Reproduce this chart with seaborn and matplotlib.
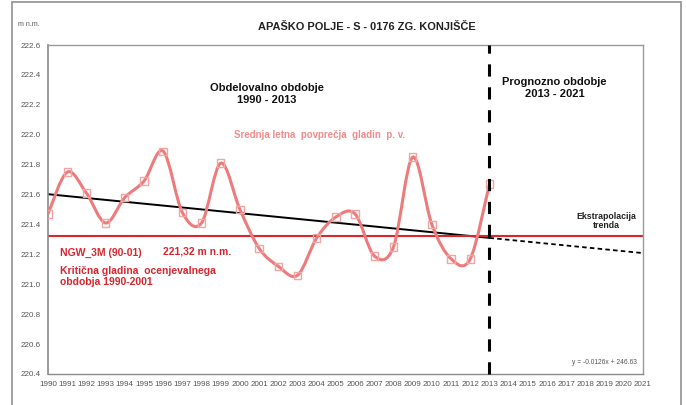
import numpy as np
import pandas as pd
import matplotlib
matplotlib.use("Agg")
import matplotlib.pyplot as plt
from matplotlib.path import Path
from matplotlib.patches import PathPatch, Rectangle
import seaborn as sns

# Mean annual groundwater levels (m n.m.), station S-0176 Zg. Konjišče
years = list(range(1990, 2014))
levels = [221.47, 221.75, 221.61, 221.41, 221.58, 221.69, 221.89, 221.48,
          221.41, 221.81, 221.50, 221.24, 221.12, 221.06, 221.31, 221.45,
          221.47, 221.19, 221.25, 221.85, 221.40, 221.17, 221.17, 221.67]

critical_level = 221.32          # NGW_3M (90-01)
forecast_end = 2021
equation_text = "y = -0.0126x + 246.63"

x_ticks = list(range(1990, 2022))
y_ticks = [220.4, 220.6, 220.8, 221.0, 221.2, 221.4, 221.6, 221.8, 222.0, 222.2, 222.4, 222.6]

df = pd.DataFrame({"leto": years, "gladina": levels})

sns.set_theme(style="white")
plt.rcParams["font.family"] = ["Liberation Sans", "DejaVu Sans"]

CURVE = "#ee7b7b"
MARK = "#f3a5a5"
RED = "#d7262e"
GREY = "#555555"

fig = plt.figure(figsize=(6.86, 4.05), dpi=100)
ax = fig.add_axes([48 / 686, 1 - 374 / 405, (643 - 48) / 686, (374 - 45) / 405])

# outer chart frame
fig.patches.append(Rectangle((12 / 686, -0.05), (681 - 12) / 686, 1.0 - 2 / 405 + 0.05,
                             transform=fig.transFigure, fill=False,
                             edgecolor="#9a9a9a", linewidth=1.3))

# linear trend fitted to the observed period, extrapolated to the forecast horizon
slope, intercept = np.polyfit(df["leto"], df["gladina"], 1)
obs_x = np.array([years[0], years[-1]])
fc_x = np.array([years[-1], forecast_end])
sns.lineplot(x=obs_x, y=slope * obs_x + intercept, ax=ax, color="black", linewidth=1.4)
sns.lineplot(x=fc_x, y=slope * fc_x + intercept, ax=ax, color="black",
             linewidth=1.3, linestyle=(0, (2.5, 1.8)))

# critical level line
sns.lineplot(x=[years[0], forecast_end], y=[critical_level, critical_level], ax=ax,
             color=RED, linewidth=1.5)

# smoothed series drawn as cubic Bezier segments through the yearly values
px = np.asarray(years, dtype=float)
py = np.asarray(levels, dtype=float)
n = len(px)
verts = [(px[0], py[0])]
codes = [Path.MOVETO]
for i in range(n - 1):
    i0 = max(i - 1, 0)
    i3 = min(i + 2, n - 1)
    c1 = (px[i] + (px[i + 1] - px[i0]) / 6, py[i] + (py[i + 1] - py[i0]) / 6)
    c2 = (px[i + 1] - (px[i3] - px[i]) / 6, py[i + 1] - (py[i3] - py[i]) / 6)
    verts += [c1, c2, (px[i + 1], py[i + 1])]
    codes += [Path.CURVE4] * 3
ax.add_patch(PathPatch(Path(verts, codes), fill=False, edgecolor=CURVE,
                       linewidth=2.2, zorder=3))
sns.scatterplot(data=df, x="leto", y="gladina", ax=ax, marker="s", s=28,
                facecolor="none", edgecolor=MARK, linewidth=1.0, zorder=4)

# boundary between observed and forecast period
ax.axvline(years[-1], color="black", linewidth=2.2, linestyle=(0, (4, 3.5)),
           zorder=5, clip_on=False)

ax.set_xlim(1990, 2021)
ax.set_ylim(220.4, 222.6)
ax.set_xticks(x_ticks)
ax.set_xticklabels([str(v) for v in x_ticks])
ax.set_yticks(y_ticks)
ax.set_yticklabels([f"{v:.1f}" for v in y_ticks])
ax.tick_params(axis="both", direction="out", length=3, width=0.8, colors="#888888",
               labelsize=5.8, labelcolor=GREY, pad=2)
ax.set_xlabel("")
ax.set_ylabel("")
for side, sp in ax.spines.items():
    sp.set_visible(True)
    sp.set_color("#9a9a9a")
    sp.set_linewidth(1.0)
ax.spines["left"].set_color("#8a8a8a")
ax.spines["left"].set_linewidth(1.2)
ax.spines["bottom"].set_color("#8a8a8a")

# titles and annotations
fig.text(367 / 686, 1 - 27 / 405, "APAŠKO POLJE - S - 0176 ZG. KONJIŠČE",
         ha="center", va="center", fontsize=7.9, fontweight="bold", color="#222222")
fig.text(18 / 686, 1 - 24 / 405, "m n.m.", ha="left", va="center", fontsize=5,
         color=GREY)

ax.text(2001.4, 222.27, "Obdelovalno obdobje\n1990 - 2013", ha="center",
        va="center", fontsize=8, fontweight="bold", color="#111111", linespacing=1.25)
ax.text(2016.4, 222.31, "Prognozno obdobje\n2013 - 2021", ha="center",
        va="center", fontsize=8, fontweight="bold", color="#111111", linespacing=1.25)
ax.text(1999.7, 222.0, "Srednja letna  povprečja  gladin  p. v.", ha="left",
        va="center", fontsize=7, fontweight="bold", color="#f08c8c")
ax.text(1990.6, 221.21, "NGW_3M (90-01)", ha="left", va="center", fontsize=7.5,
        fontweight="bold", color=RED)
ax.text(1996.0, 221.22, "221,32 m n.m.", ha="left", va="center", fontsize=7.5,
        fontweight="bold", color=RED)
ax.text(1990.6, 221.05, "Kritična gladina  ocenjevalnega\nobdobja 1990-2001", ha="left",
        va="center", fontsize=7.5, fontweight="bold", color=RED, linespacing=1.1)
ax.text(2019.1, 221.425, "Ekstrapolacija\ntrenda", ha="center", va="center",
        fontsize=6.3, fontweight="bold", color="#222222", linespacing=1.05)
ax.text(2020.7, 220.48, equation_text, ha="right", va="center", fontsize=4.8,
        color=GREY)

fig.savefig("out.png", dpi=100)
